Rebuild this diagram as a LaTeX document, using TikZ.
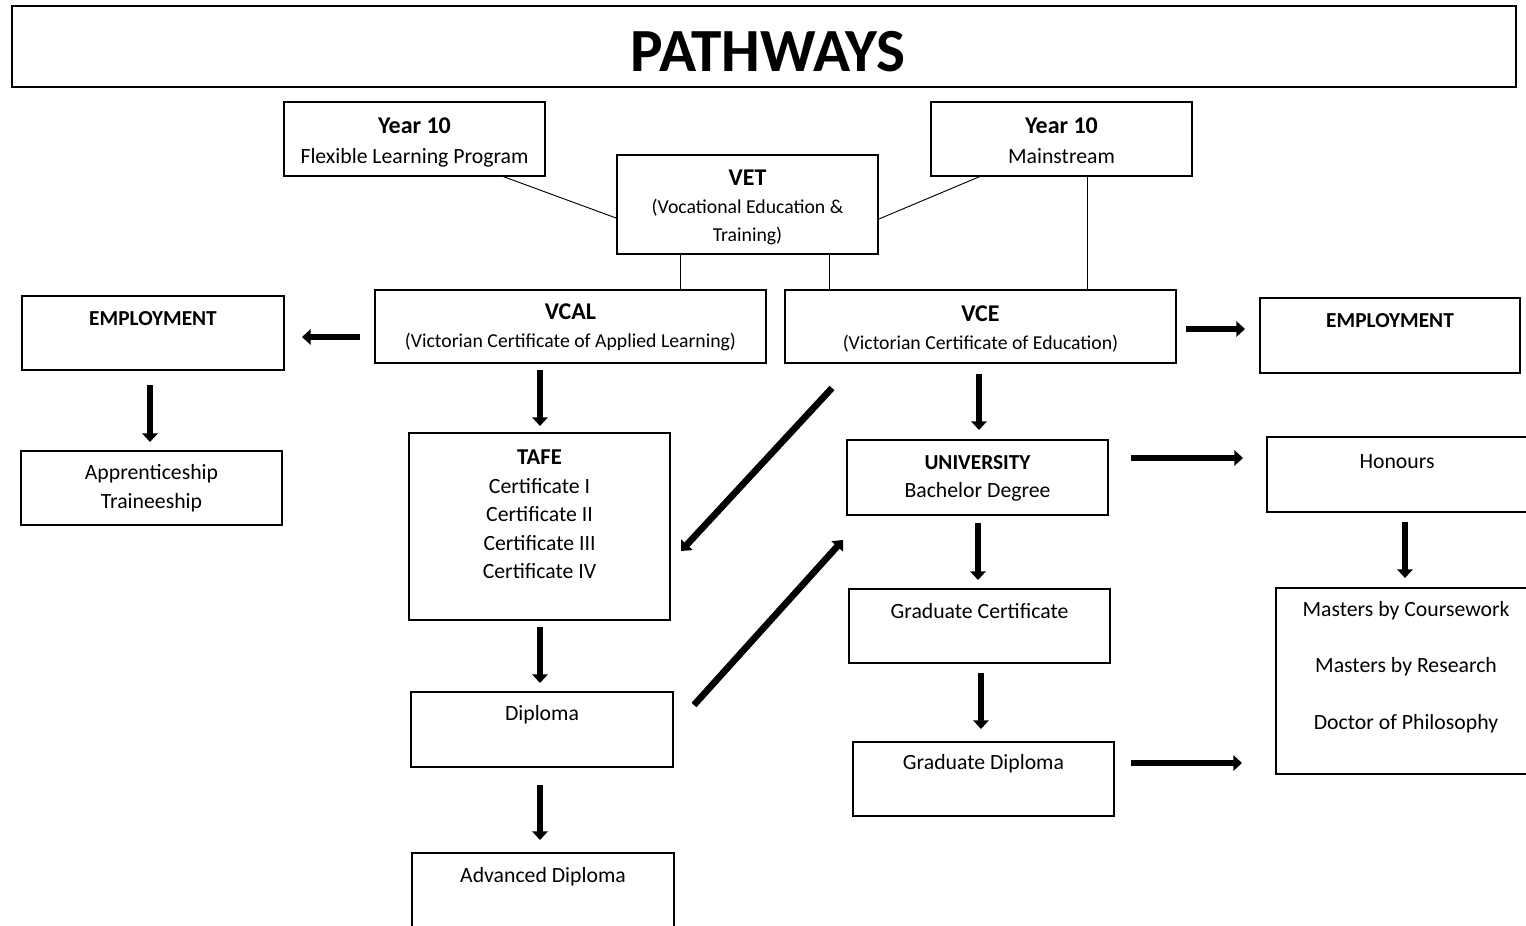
\documentclass[tikz,border=0pt]{standalone}
\usepackage{fontspec}
\setmainfont{Carlito}
\usetikzlibrary{arrows.meta,fit,calc}
\begin{document}
\begin{tikzpicture}[x=0.75pt,y=-0.75pt,
  box/.style={draw, line width=0.9pt, inner sep=0pt},
  thinline/.style={line width=0.7pt},
  bigarrow/.style={line width=5pt, -{Triangle[width=11.5pt,length=6.5pt]}},
  txt/.style={align=center, inner sep=0pt, font=\fontsize{16.3}{22.5}\selectfont},
  small/.style={align=center, inner sep=0pt, font=\fontsize{14.8}{21}\selectfont}]
\useasboundingbox (0,0) rectangle (1526,925);
\clip (0,0) rectangle (1526,925);
\fill[white] (0,0) rectangle (1526,925);

% title
\node[box, fit={(12,6) (1516,87)}] (title) {};
\node[inner sep=0pt, font=\fontsize{46}{50}\selectfont\bfseries] (titletxt) at (768,52) {PATHWAYS};

% boxes
\node[box, fit={(284,102) (545,176)}] (y10f) {};
\node[box, fit={(617,155) (878,254)}] (vet) {};
\node[box, fit={(931,102) (1192,176)}] (y10m) {};
\node[box, fit={(375,290) (766,363)}] (vcal) {};
\node[box, fit={(785,290) (1176,363)}] (vce) {};
\node[box, fit={(22,296) (284,370)}] (empl) {};
\node[box, fit={(1260,298) (1520,373)}] (empr) {};
\node[box, fit={(21,451) (282,525)}] (appr) {};
\node[box, fit={(409,433) (670,620)}] (tafe) {};
\node[box, fit={(847,440) (1108,515)}] (uni) {};
\node[box, fit={(1267,437) (1540,512)}] (hon) {};
\node[box, fit={(1276,588) (1540,774)}] (mast) {};
\node[box, fit={(411,692) (673,767)}] (dipl) {};
\node[box, fit={(849,589) (1110,663)}] (gcert) {};
\node[box, fit={(853,742) (1114,816)}] (gdip) {};
\node[box, fit={(412,853) (674,940)}] (adip) {};

% texts
\node[txt] (ty10f) at (414.5,142) {{\fontsize{18}{22.5}\selectfont\bfseries Year 10}\\Flexible Learning Program};
\node[small] (tvet) at (747.5,207) {{\fontsize{18}{22.5}\selectfont\bfseries VET}\\(Vocational Education \&\\Training)};
\node[txt] (ty10m) at (1061.5,141) {{\fontsize{18}{22.5}\selectfont\bfseries Year 10}\\Mainstream};
\node[small] (tvcal) at (570.5,327.5) {{\fontsize{18}{22.5}\selectfont\bfseries VCAL}\\(Victorian Certificate of Applied Learning)};
\node[small] (tvce) at (980.5,328.5) {{\fontsize{18}{22.5}\selectfont\bfseries VCE}\\(Victorian Certificate of Education)};
\node[txt, font=\fontsize{16}{21}\selectfont\bfseries] (templ) at (153,319) {EMPLOYMENT};
\node[txt, font=\fontsize{16}{21}\selectfont\bfseries] (tempr) at (1390,321) {EMPLOYMENT};
\node[txt, font=\fontsize{16.3}{21.5}\selectfont] (tappr) at (151.5,488) {Apprenticeship\\Traineeship};
\node[txt, font=\fontsize{16.3}{21.4}\selectfont] (ttafe) at (539.5,514.5) {{\fontsize{17}{21.4}\selectfont\bfseries TAFE}\\Certificate I\\Certificate II\\Certificate III\\Certificate IV};
\node[txt, font=\fontsize{16.3}{21}\selectfont] (tuni) at (977.5,478.5) {{\fontsize{16}{21}\selectfont\bfseries UNIVERSITY}\\Bachelor Degree};
\node[txt] (thon) at (1397,461.5) {Honours};
\node[txt, font=\fontsize{16.3}{42.4}\selectfont] (tmast) at (1406,667) {Masters by Coursework\\Masters by Research\\Doctor of Philosophy};
\node[txt] (tdipl) at (542,714.5) {Diploma};
\node[txt] (tgcert) at (979.5,611.5) {Graduate Certificate};
\node[txt] (tgdip) at (983.5,763.5) {Graduate Diploma};
\node[txt] (tadip) at (543,876.5) {Advanced Diploma};

% thin connectors
\coordinate (c1a) at ($(y10f.south west)!0.839!(y10f.south east)$);
\coordinate (c1b) at ($(vet.north west)!0.636!(vet.south west)$);
\draw[thinline] (c1a) -- (c1b);
\coordinate (c2a) at ($(vet.north east)!0.646!(vet.south east)$);
\coordinate (c2b) at ($(y10m.south west)!0.188!(y10m.south east)$);
\draw[thinline] (c2a) -- (c2b);
\coordinate (c3a) at ($(vet.south west)!0.245!(vet.south east)$);
\draw[thinline] (c3a) -- (c3a |- vcal.north);
\coordinate (c4a) at ($(vet.south west)!0.812!(vet.south east)$);
\draw[thinline] (c4a) -- (c4a |- vce.north);
\coordinate (c5a) at ($(y10m.south west)!0.60!(y10m.south east)$);
\draw[thinline] (c5a) -- (c5a |- vce.north);

% thick arrows
\coordinate (a1s) at (360,337);  \coordinate (a1e) at (302,337);
\coordinate (a2s) at (150,385);  \coordinate (a2e) at (150,442);
\coordinate (a3s) at (540,370);  \coordinate (a3e) at (540,426);
\coordinate (a4s) at (979,374);  \coordinate (a4e) at (979,430);
\coordinate (a5s) at (1186,329); \coordinate (a5e) at (1245,329);
\coordinate (a6s) at (832,388);  \coordinate (a6e) at (681,551);
\coordinate (a7s) at (694,705);  \coordinate (a7e) at (843,540);
\coordinate (a8s) at (540,627);  \coordinate (a8e) at (540,683);
\coordinate (a9s) at (540,785);  \coordinate (a9e) at (540,840);
\coordinate (a10s) at (978,523); \coordinate (a10e) at (978,580);
\coordinate (a11s) at (981,673); \coordinate (a11e) at (981,729);
\coordinate (a12s) at (1131,458); \coordinate (a12e) at (1243,458);
\coordinate (a13s) at (1405,522); \coordinate (a13e) at (1405,578);
\coordinate (a14s) at (1131,763); \coordinate (a14e) at (1242,763);
\foreach \i in {1,...,14} {\draw[bigarrow] (a\i s) -- (a\i e);}
\end{tikzpicture}
\end{document}
